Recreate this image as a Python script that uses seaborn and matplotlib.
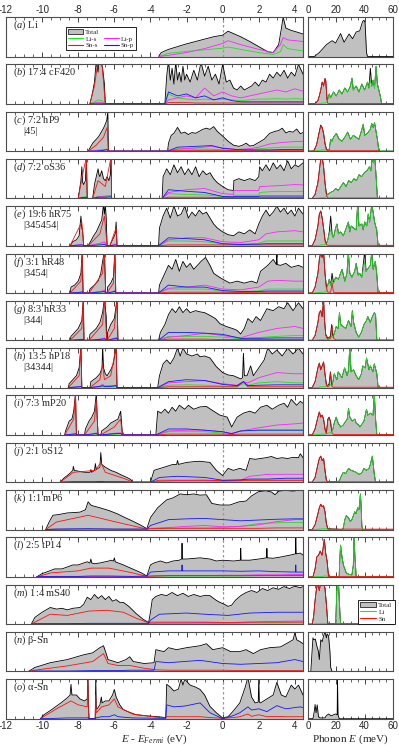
import matplotlib
matplotlib.use("Agg")
import matplotlib.pyplot as plt
import seaborn as sns
from matplotlib.patches import Patch
from matplotlib.lines import Line2D
from matplotlib.ticker import MultipleLocator

sns.set_style("ticks")
plt.rcParams["font.family"] = ["Liberation Serif", "DejaVu Serif"]
plt.rcParams["mathtext.fontset"] = "custom"
plt.rcParams["mathtext.rm"] = "Liberation Serif"
plt.rcParams["mathtext.it"] = "Liberation Serif:italic"
plt.rcParams["axes.unicode_minus"] = False

C_TOT = "#c0c0c0"
C_LIS = "#22e022"
C_LIP = "#ff22ff"
C_SNS = "#ff1010"
C_SNP = "#1515ff"

letters = list("abcdefghijklmno")
names = ["Li", "17:4 cF420", "7:2 hP9", "7:2 oS36", "19:6 hR75", "3:1 hR48", "8:3 hR33",
         "13:5 hP18", "7:3 mP20", "2:1 oS12", "1:1 mP6", "2:5 tP14", "1:4 mS40",
         "\u03b2-Sn", "\u03b1-Sn"]
sublabels = ["", "", "|45|", "", "|345454|", "|3454|", "|344|", "|34344|",
             "", "", "", "", "", "", ""]

# ---- electronic DOS (energy in eV, height as fraction of panel) ----
a_e = [-3.55,-3.4,-3.0,-2.5,-2.0,-1.5,-1.0,-0.5,0.0,0.3,0.6,1.0,1.5,2.0,2.5,2.8,3.1,3.25,3.35,3.5,3.8,4.1,4.45]
a_tot = [0,0.1,0.18,0.25,0.32,0.38,0.44,0.5,0.54,0.64,0.58,0.5,0.38,0.25,0.12,0.1,0.3,0.7,1.0,0.72,0.66,0.62,0.57]
a_ce = [-3.55,-3.0,-2.0,-1.0,0.0,0.3,1.0,2.0,2.8,3.2,3.35,3.6,4.45]
a_lis = [0,0.08,0.13,0.17,0.21,0.24,0.18,0.1,0.05,0.12,0.3,0.2,0.14]
a_lip = [0,0.03,0.1,0.2,0.33,0.4,0.3,0.18,0.1,0.3,0.48,0.42,0.38]

b_e = [-7.35,-7.2,-7.1,-7.0,-6.9,-6.85,-6.75,-6.65,-6.55,-6.5,
       -3.2,-3.1,-3.0,-2.9,-2.8,-2.7,-2.6,-2.5,-2.4,-2.3,-2.2,-2.1,-2.0,-1.8,-1.6,-1.4,-1.2,-1.0,-0.8,-0.6,
       -0.4,-0.2,0.0,0.2,0.4,0.6,0.8,1.0,1.2,1.4,1.6,1.8,2.0,2.2,2.4,2.6,2.8,3.0,3.2,3.4,3.6,3.8,4.0,4.2,4.45]
b_tot = [0,0.3,0.55,1.1,0.8,1.1,1.1,0.9,0.5,0,
         0,0.7,1.1,0.6,0.9,0.5,1.05,0.6,0.8,0.55,0.95,0.6,0.75,0.55,0.85,0.6,1.05,0.7,0.95,0.6,
         0.75,0.5,1.0,0.55,0.6,0.4,0.35,0.45,0.35,0.4,0.45,0.55,0.45,0.6,0.55,0.75,0.65,0.8,0.7,0.85,0.65,0.8,0.7,1.0,0.75]
b_ce = [-7.35,-7.1,-6.9,-6.7,-6.5,-3.2,-3.0,-2.5,-2.0,-1.5,-1.0,-0.5,0.0,0.5,1.0,1.5,2.0,2.5,3.0,3.5,4.0,4.45]
b_sns = [0,0.45,1.1,1.1,0,0,0.03,0.03,0.03,0.02,0.02,0.02,0.02,0.02,0.02,0.02,0.02,0.02,0.02,0.02,0.02,0.02]
b_snp = [0,0,0,0,0,0,0.3,0.2,0.25,0.15,0.2,0.1,0.15,0.08,0.05,0.05,0.05,0.05,0.05,0.05,0.05,0.05]
b_lis = [0,0.05,0.1,0.08,0,0,0.25,0.15,0.12,0.1,0.12,0.1,0.12,0.1,0.08,0.1,0.12,0.12,0.13,0.12,0.13,0.12]
b_lip = [0,0.02,0.04,0.03,0,0,0.1,0.15,0.2,0.15,0.4,0.2,0.3,0.2,0.15,0.2,0.25,0.3,0.35,0.3,0.38,0.32]

c_e = [-7.45,-7.3,-7.2,-7.1,-7.0,-6.9,-6.8,-6.7,-6.6,-6.5,-6.42,-6.36,-6.33,
       -3.05,-3.0,-2.85,-2.7,-2.5,-2.3,-2.1,-1.9,-1.7,-1.5,-1.3,-1.1,-0.9,-0.7,-0.5,-0.3,0.0,0.3,0.6,0.9,
       1.1,1.3,1.5,1.7,2.0,2.3,2.6,2.9,3.1,3.3,3.5,3.7,3.9,4.1,4.3,4.45]
c_tot = [0,0.12,0.2,0.25,0.3,0.35,0.42,0.5,0.58,0.68,0.78,1.0,0,
         0,0.2,0.4,0.45,0.6,0.45,0.48,0.42,0.47,0.45,0.5,0.55,0.58,0.55,0.62,0.5,0.38,0.25,0.15,0.12,
         0.15,0.2,0.13,0.14,0.22,0.3,0.45,0.5,0.52,0.58,0.46,0.5,0.48,0.56,0.44,0.47]
c_ce = [-7.45,-7.0,-6.6,-6.4,-6.33,-3.05,-2.5,-1.5,-0.6,0.0,0.8,1.5,2.0,2.6,3.3,4.0,4.45]
c_sns = [0,0.15,0.35,0.6,0,0,0.02,0.02,0.02,0.02,0.01,0.01,0.01,0.01,0.01,0.01,0.01]
c_snp = [0,0,0.02,0.04,0,0,0.1,0.12,0.14,0.07,0.04,0.03,0.03,0.03,0.04,0.04,0.04]
c_lis = [0,0.02,0.04,0.05,0,0,0.06,0.05,0.05,0.03,0.02,0.03,0.06,0.08,0.1,0.1,0.1]
c_lip = [0,0.01,0.02,0.04,0,0,0.05,0.08,0.12,0.08,0.04,0.06,0.1,0.18,0.22,0.24,0.25]

d_e = [-8.0,-7.9,-7.85,-7.8,-7.75,-7.7,-7.6,-7.55,-7.5,
       -7.2,-7.1,-7.0,-6.9,-6.85,-6.8,-6.7,-6.6,-6.5,-6.4,-6.3,-6.22,-6.18,-6.15,
       -3.35,-3.3,-3.1,-2.9,-2.7,-2.5,-2.3,-2.1,-1.9,-1.7,-1.5,-1.3,-1.1,-0.9,-0.7,-0.5,-0.3,0.0,0.3,0.6,
       0.62,0.9,1.2,1.5,1.8,2.0,2.05,2.2,2.4,2.6,2.8,3.0,3.2,3.4,3.6,3.8,4.0,4.2,4.45]
d_tot = [0,0.3,0.45,0.8,0.4,0.35,0.45,1.05,0,
         0,0.35,0.55,0.75,0.6,0.55,0.7,0.5,0.45,0.55,0.45,0.6,1.05,0,
         0,0.55,0.75,0.6,0.85,0.65,0.8,0.6,0.75,0.6,0.8,0.55,0.7,0.6,0.65,0.5,0.4,0.3,0.22,0.2,
         0.45,0.5,0.45,0.5,0.45,0.55,0.8,0.7,0.85,0.7,0.9,0.75,0.85,0.7,0.95,0.75,0.85,0.8,0.9]
d_ce = [-8.0,-7.8,-7.55,-7.5,-7.2,-6.9,-6.5,-6.18,-6.15,-3.35,-3.0,-2.0,-1.0,0.0,0.6,0.62,1.5,2.0,2.05,3.0,4.0,4.45]
d_sns = [0,0.5,1.05,0,0,0.45,0.3,1.05,0,0,0.03,0.03,0.03,0.02,0.02,0.02,0.02,0.02,0.02,0.02,0.02,0.02]
d_snp = [0,0.02,0.03,0,0,0.03,0.03,0.04,0,0,0.22,0.18,0.15,0.05,0.04,0.05,0.05,0.05,0.06,0.06,0.06,0.06]
d_lis = [0,0.03,0.04,0,0,0.05,0.04,0.05,0,0,0.12,0.1,0.09,0.05,0.04,0.08,0.08,0.08,0.15,0.18,0.17,0.18]
d_lip = [0,0.02,0.02,0,0,0.04,0.06,0.07,0,0,0.15,0.22,0.25,0.12,0.1,0.2,0.2,0.2,0.3,0.32,0.35,0.34]

e_e = [-8.45,-8.3,-8.1,-7.95,-7.85,-7.8,-7.75,-7.7,
       -7.45,-7.3,-7.15,-7.0,-6.9,-6.8,-6.7,-6.6,-6.55,-6.5,-6.45,-6.4,
       -6.25,-6.1,-6.0,-5.95,-5.9,-5.85,
       -3.55,-3.5,-3.3,-3.1,-2.9,-2.7,-2.5,-2.3,-2.1,-1.9,-1.7,-1.5,-1.3,-1.1,-0.9,-0.7,-0.5,-0.3,0.0,0.3,
       0.6,0.9,1.2,1.5,1.8,2.0,2.2,2.4,2.6,2.8,3.0,3.2,3.4,3.6,3.8,4.0,4.2,4.45]
e_tot = [0,0.1,0.15,0.25,0.75,0.45,0.35,0,
         0,0.12,0.25,0.35,0.45,0.55,0.65,1.05,0.8,1.05,0.7,0,
         0,0.15,0.25,0.3,0.6,0,
         0,0.45,0.75,0.95,0.7,1.0,0.75,0.8,1.0,0.7,0.85,0.75,0.9,0.8,0.85,0.7,0.55,0.45,0.35,0.28,
         0.25,0.35,0.3,0.4,0.3,0.55,0.75,0.9,0.75,0.85,1.0,0.85,0.95,0.8,0.9,0.75,0.95,0.8]
e_ce = [-8.45,-7.8,-7.7,-7.45,-6.8,-6.55,-6.4,-6.25,-5.9,-5.85,-3.55,-3.0,-2.0,-1.0,0.0,1.0,2.0,2.4,3.0,4.0,4.45]
e_sns = [0,0.6,0,0,0.3,0.75,0,0,0.45,0,0,0.02,0.02,0.02,0.02,0.02,0.02,0.02,0.02,0.02,0.02]
e_snp = [0,0.02,0,0,0.02,0.03,0,0,0.02,0,0,0.2,0.18,0.15,0.05,0.03,0.04,0.05,0.05,0.05,0.05]
e_lis = [0,0.02,0,0,0.04,0.05,0,0,0.03,0,0,0.12,0.12,0.1,0.05,0.04,0.06,0.12,0.12,0.12,0.12]
e_lip = [0,0.03,0,0,0.06,0.1,0,0,0.04,0,0,0.15,0.2,0.2,0.1,0.08,0.15,0.3,0.35,0.38,0.35]

f_e = [-8.45,-8.4,-8.2,-8.0,-7.85,-7.78,-7.73,
       -7.4,-7.35,-7.1,-6.9,-6.75,-6.65,-6.55,-6.48,
       -6.4,-6.37,-6.2,-6.05,-5.97,-5.92,
       -3.55,-3.5,-3.4,-3.2,-3.0,-2.8,-2.6,-2.4,-2.2,-2.0,-1.8,-1.6,-1.4,-1.2,-0.95,-0.7,-0.5,-0.25,0.0,0.4,
       0.8,1.2,1.6,1.9,2.1,2.5,2.8,2.98,3.0,3.02,3.2,3.5,3.8,4.2,4.45]
f_tot = [0,0.15,0.2,0.3,0.5,1.05,0,
         0,0.1,0.2,0.3,0.5,0.8,1.05,0,
         0,0.15,0.25,0.4,1.05,0,
         0,0.2,0.3,0.5,0.7,0.6,0.85,0.55,0.8,0.65,0.75,0.6,0.7,0.8,0.9,0.7,0.5,0.42,0.35,0.25,
         0.3,0.25,0.3,0.25,0.55,0.7,0.85,0.72,1.05,0.72,0.7,0.75,0.65,0.7,0.65]
f_ce = [-8.45,-7.85,-7.78,-7.73,-7.4,-6.65,-6.55,-6.48,-6.4,-6.05,-5.97,-5.92,-3.55,-3.0,-2.0,-1.0,0.0,1.0,2.0,2.5,3.0,4.0,4.45]
f_sns = [0,0.3,1.05,0,0,0.5,1.05,0,0,0.25,1.05,0,0,0.02,0.02,0.02,0.02,0.01,0.02,0.02,0.02,0.02,0.02]
f_snp = [0,0.02,0.03,0,0,0.03,0.04,0,0,0.03,0.05,0,0,0.2,0.15,0.15,0.06,0.04,0.04,0.05,0.05,0.05,0.05]
f_lis = [0,0.02,0.02,0,0,0.03,0.03,0,0,0.03,0.03,0,0,0.1,0.1,0.1,0.05,0.04,0.05,0.1,0.1,0.1,0.1]
f_lip = [0,0.02,0.03,0,0,0.05,0.08,0,0,0.04,0.06,0,0,0.12,0.15,0.2,0.1,0.08,0.15,0.3,0.32,0.3,0.3]

g_e = [-8.45,-8.4,-8.2,-8.0,-7.8,-7.72,-7.68,
       -7.4,-7.35,-7.0,-6.8,-6.65,-6.55,-6.45,-6.42,
       -6.4,-6.37,-6.2,-6.0,-5.85,-5.8,
       -3.55,-3.45,-3.2,-3.0,-2.8,-2.6,-2.4,-2.2,-2.0,-1.8,-1.5,-1.25,-1.0,-0.7,-0.4,-0.15,0.2,0.6,0.8,1.0,
       1.2,1.4,1.65,1.85,2.1,2.45,2.8,3.1,3.4,3.6,3.9,4.2,4.45]
g_tot = [0,0.1,0.2,0.3,0.5,1.05,0,
         0,0.15,0.3,0.45,0.7,1.05,0.6,0,
         0,0.2,0.4,0.55,1.05,0,
         0,0.2,0.4,0.65,0.8,0.7,0.85,0.7,0.8,0.7,0.75,0.72,0.7,0.63,0.55,0.42,0.35,0.29,0.25,0.16,
         0.3,0.55,0.45,0.6,0.5,0.8,0.75,0.85,0.8,0.95,0.75,0.95,0.8]
g_ce = [-8.45,-7.8,-7.72,-7.68,-7.4,-6.65,-6.55,-6.42,-6.4,-6.0,-5.85,-5.8,-3.55,-3.0,-2.0,-1.0,0.0,1.0,1.4,2.0,3.0,4.0,4.45]
g_sns = [0,0.3,1.05,0,0,0.4,1.05,0,0,0.3,1.05,0,0,0.03,0.03,0.03,0.02,0.02,0.02,0.02,0.02,0.02,0.02]
g_snp = [0,0.02,0.03,0,0,0.03,0.04,0,0,0.04,0.05,0,0,0.2,0.2,0.18,0.15,0.05,0.05,0.05,0.06,0.06,0.06]
g_lis = [0,0.02,0.02,0,0,0.02,0.03,0,0,0.02,0.03,0,0,0.1,0.1,0.1,0.08,0.04,0.06,0.07,0.1,0.12,0.12]
g_lip = [0,0.02,0.03,0,0,0.04,0.06,0,0,0.05,0.07,0,0,0.08,0.12,0.18,0.12,0.06,0.12,0.2,0.3,0.35,0.3]

h_e = [-8.55,-8.5,-8.3,-8.1,-7.95,-7.85,-7.8,
       -7.35,-7.3,-7.0,-6.8,-6.68,-6.65,-6.6,-6.5,-6.4,-6.2,-6.05,-5.9,-5.85,
       -3.6,-3.5,-3.3,-3.1,-2.9,-2.7,-2.5,-2.35,-2.2,-2.0,-1.7,-1.4,-1.25,-1.0,-0.7,-0.35,0.0,0.3,0.6,1.0,
       1.1,1.15,1.2,1.35,1.55,1.7,2.0,2.3,2.5,2.75,3.0,3.3,3.6,3.9,4.2,4.45]
h_tot = [0,0.1,0.2,0.3,0.5,1.05,0,
         0,0.15,0.25,0.35,0.5,1.05,0.5,0.35,0.3,0.45,0.6,1.05,0,
         0,0.3,0.6,0.7,0.6,0.75,1.0,0.8,1.0,0.85,0.8,0.85,0.78,0.8,0.75,0.53,0.38,0.32,0.3,0.22,
         0.25,0.87,0.3,0.3,0.55,0.3,0.5,0.7,1.0,0.85,0.95,0.8,1.0,0.85,1.0,0.85]
h_ce = [-8.55,-7.95,-7.85,-7.8,-7.35,-6.8,-6.65,-6.55,-6.2,-5.9,-5.85,-3.6,-3.0,-2.0,-1.0,0.0,0.8,1.15,1.4,2.0,3.0,4.0,4.45]
h_sns = [0,0.3,1.05,0,0,0.2,0.6,0.2,0.3,1.05,0,0,0.02,0.02,0.02,0.02,0.02,0.15,0.02,0.02,0.02,0.02,0.02]
h_snp = [0,0.02,0.03,0,0,0.03,0.05,0.03,0.03,0.05,0,0,0.15,0.2,0.18,0.08,0.05,0.15,0.05,0.06,0.07,0.07,0.07]
h_lis = [0,0.02,0.02,0,0,0.02,0.03,0.02,0.03,0.03,0,0,0.06,0.07,0.06,0.04,0.03,0.1,0.06,0.12,0.15,0.12,0.12]
h_lip = [0,0.02,0.03,0,0,0.04,0.08,0.04,0.05,0.06,0,0,0.12,0.15,0.18,0.1,0.06,0.15,0.12,0.25,0.38,0.35,0.35]

i_e = [-8.75,-8.7,-8.5,-8.35,-8.25,-8.15,-8.1,
       -7.65,-7.6,-7.4,-7.25,-7.1,-7.0,-6.95,-6.9,
       -6.75,-6.7,-6.4,-6.2,-6.0,-5.8,-5.65,-5.6,-5.55,
       -3.7,-3.6,-3.4,-3.2,-3.0,-2.8,-2.6,-2.4,-2.1,-1.9,-1.6,-1.25,-0.9,-0.5,-0.15,0.25,0.5,0.8,1.15,1.5,
       1.8,2.1,2.45,2.75,3.1,3.4,3.6,3.8,4.1,4.3,4.45]
i_tot = [0,0.1,0.35,0.4,0.6,1.05,0,
         0,0.15,0.35,0.45,0.6,1.05,0.45,0,
         0,0.1,0.2,0.3,0.35,0.4,0.6,0.3,0,
         0,0.6,0.55,0.65,0.55,0.7,0.6,0.75,0.65,0.75,0.65,0.71,0.72,0.6,0.5,0.45,0.2,0.45,0.55,0.6,
         0.55,0.7,0.75,0.65,0.75,0.8,0.7,0.9,0.75,0.85,0.8]
i_ce = [-8.75,-8.25,-8.15,-8.1,-7.65,-7.1,-7.0,-6.9,-6.75,-6.0,-5.65,-5.55,-3.7,-3.0,-2.0,-1.0,0.0,0.5,1.0,2.0,3.0,4.0,4.45]
i_sns = [0,0.4,1.05,0,0,0.35,0.9,0,0,0.2,0.4,0,0,0.02,0.02,0.02,0.02,0.01,0.02,0.02,0.02,0.02,0.02]
i_snp = [0,0.02,0.03,0,0,0.03,0.04,0,0,0.03,0.04,0,0,0.15,0.15,0.12,0.08,0.03,0.1,0.12,0.12,0.12,0.12]
i_lis = [0,0.02,0.02,0,0,0.02,0.03,0,0,0.02,0.03,0,0,0.08,0.08,0.08,0.05,0.03,0.1,0.12,0.12,0.12,0.12]
i_lip = [0,0.02,0.03,0,0,0.03,0.05,0,0,0.04,0.05,0,0,0.1,0.12,0.12,0.08,0.04,0.1,0.18,0.25,0.28,0.3]

j_e = [-9.0,-8.8,-8.6,-8.4,-8.3,-8.27,-8.22,-8.0,-7.8,-7.6,-7.35,-7.3,-7.25,-7.1,-7.05,-7.0,-6.8,-6.75,-6.7,-6.5,
       -6.2,-5.9,-5.6,-5.3,-5.1,-4.95,
       -4.0,-3.8,-3.45,-3.1,-2.75,-2.55,-2.5,-2.45,-2.0,-1.6,-1.25,-0.7,-0.35,0.0,0.3,0.6,0.95,1.3,1.5,1.8,
       2.1,2.4,2.7,3.0,3.3,3.6,3.9,4.2,4.3,4.45]
j_tot = [0,0.1,0.17,0.25,0.3,0.4,0.3,0.28,0.26,0.25,0.25,0.32,0.25,0.3,0.47,0.32,0.38,0.75,0.45,0.38,
         0.3,0.25,0.18,0.12,0.07,0,
         0,0.3,0.35,0.4,0.45,0.45,0.55,0.45,0.5,0.52,0.53,0.5,0.3,0.17,0.35,0.3,0.35,0.3,0.6,0.58,
         0.6,0.62,0.65,0.6,0.62,0.6,0.63,0.62,0.72,0.62]
j_ce = [-9.0,-8.27,-7.05,-6.75,-6.5,-5.5,-4.95,-4.0,-3.5,-2.5,-1.0,0.0,1.0,1.5,2.5,3.5,4.45]
j_sns = [0,0.25,0.3,0.5,0.25,0.1,0,0,0.05,0.05,0.05,0.04,0.04,0.04,0.04,0.04,0.04]
j_snp = [0,0.01,0.01,0.02,0.01,0.01,0,0,0.12,0.15,0.12,0.05,0.06,0.08,0.08,0.1,0.1]
j_lis = [0,0.01,0.01,0.02,0.01,0.01,0,0,0.02,0.03,0.03,0.02,0.03,0.06,0.06,0.06,0.06]
j_lip = [0,0.01,0.01,0.02,0.01,0.01,0,0,0.02,0.04,0.05,0.03,0.05,0.15,0.2,0.2,0.2]

k_e = [-9.8,-9.6,-9.4,-9.07,-8.6,-8.2,-7.9,-7.6,-7.45,-7.3,-7.2,-6.8,-6.3,-5.85,-5.4,-4.93,-4.5,-4.2,
       -4.0,-3.6,-3.1,-2.75,-2.35,-2.0,-1.6,-1.25,-0.9,-0.6,-0.15,0.4,0.9,1.3,1.6,2.0,2.4,2.7,2.9,3.1,3.5,3.9,4.2,4.45]
k_tot = [0,0.2,0.36,0.38,0.42,0.43,0.44,0.5,0.7,0.62,0.6,0.55,0.48,0.4,0.3,0.2,0.1,0.02,
         0.3,0.55,0.75,0.8,0.9,0.88,0.9,0.87,0.88,0.66,0.62,0.62,0.7,0.72,0.85,0.96,0.98,0.95,0.88,0.97,0.99,0.97,1.0,0.98]
k_ce = [-9.8,-9.2,-7.45,-6.0,-4.2,-4.0,-3.0,-2.0,-1.0,0.0,1.0,2.0,3.0,4.0,4.45]
k_sns = [0,0.19,0.36,0.2,0.01,0.02,0.03,0.03,0.03,0.03,0.03,0.03,0.04,0.04,0.04]
k_snp = [0,0.01,0.02,0.01,0.01,0.1,0.25,0.27,0.28,0.25,0.22,0.24,0.26,0.27,0.27]
k_lis = [0,0.01,0.01,0.01,0.01,0.02,0.03,0.04,0.04,0.05,0.08,0.15,0.17,0.18,0.18]
k_lip = [0,0.01,0.01,0.01,0.01,0.03,0.05,0.08,0.1,0.07,0.08,0.12,0.2,0.25,0.25]

l_e = [-10.3,-10.0,-9.7,-9.3,-8.9,-8.6,-8.3,-8.0,-7.7,-7.5,-7.35,-7.3,-7.25,-7.1,-6.8,-6.5,-6.3,-6.2,-6.05,-6.0,
       -5.95,-5.5,-5.0,-4.5,-4.2,
       -4.0,-3.8,-3.45,-3.1,-2.75,-2.4,-2.27,-2.25,-2.23,-2.0,-1.25,-0.7,-0.35,0.0,0.6,0.98,1.0,1.02,1.5,2.0,
       2.43,2.45,2.47,2.8,3.2,3.75,4.03,4.05,4.07,4.3,4.45]
l_tot = [0,0.08,0.13,0.2,0.2,0.25,0.3,0.3,0.35,0.38,0.35,0.45,0.35,0.33,0.35,0.38,0.4,0.42,0.4,0.48,
         0.38,0.3,0.2,0.1,0.02,
         0.3,0.35,0.4,0.35,0.4,0.42,0.45,0.85,0.45,0.45,0.48,0.45,0.4,0.42,0.4,0.42,0.72,0.42,0.42,0.45,
         0.48,0.72,0.48,0.47,0.5,0.55,0.58,1.05,0.58,0.6,0.55]
l_ce = [-10.3,-9.5,-8.0,-7.3,-6.3,-5.0,-4.2,-4.0,-3.0,-2.27,-2.25,-2.23,-1.0,0.0,1.0,2.0,3.0,4.03,4.05,4.07,4.45]
l_sns = [0,0.1,0.15,0.22,0.22,0.1,0.01,0.02,0.03,0.03,0.03,0.03,0.03,0.03,0.03,0.03,0.03,0.03,0.03,0.03,0.03]
l_snp = [0,0.01,0.01,0.02,0.02,0.01,0.02,0.12,0.15,0.15,0.3,0.15,0.15,0.15,0.14,0.15,0.13,0.12,0.3,0.12,0.12]
l_lis = [0,0.01,0.01,0.01,0.01,0.01,0.01,0.01,0.02,0.02,0.02,0.02,0.02,0.02,0.02,0.03,0.03,0.03,0.03,0.03,0.03]
l_lip = [0,0.01,0.01,0.01,0.01,0.01,0.01,0.02,0.03,0.03,0.03,0.03,0.03,0.04,0.04,0.05,0.05,0.06,0.06,0.06,0.06]

m_e = [-10.6,-10.4,-10.0,-9.55,-9.2,-8.9,-8.6,-8.3,-7.9,-7.7,-7.5,-7.3,-7.1,-6.9,-6.7,-6.5,-6.3,-6.1,-5.9,-5.7,
       -5.5,-5.2,-4.8,-4.4,-4.1,
       -4.0,-3.9,-3.7,-3.4,-3.1,-2.8,-2.5,-2.2,-1.9,-1.6,-1.25,-0.95,-0.7,-0.35,-0.15,0.1,0.3,0.5,0.7,1.0,
       1.3,1.6,1.9,2.2,2.5,2.8,3.1,3.4,3.7,4.0,4.3,4.45]
m_tot = [0,0.17,0.3,0.42,0.38,0.4,0.36,0.4,0.42,0.5,0.68,0.62,0.75,0.65,0.72,0.62,0.7,0.58,0.62,0.55,
         0.55,0.45,0.27,0.12,0.04,
         0.3,0.62,0.7,0.75,0.72,0.8,0.72,0.78,0.7,0.75,0.7,0.73,0.72,0.6,0.55,0.5,0.45,0.48,0.6,0.72,
         0.8,0.85,0.8,0.9,0.85,0.92,0.88,0.95,0.9,0.96,0.92,0.95]
m_ce = [-10.6,-10.4,-9.55,-8.6,-7.4,-6.4,-5.5,-4.8,-4.1,-4.0,-3.5,-2.0,-1.0,0.3,1.5,3.0,4.45]
m_sns = [0,0.05,0.25,0.22,0.33,0.35,0.3,0.15,0.03,0.05,0.05,0.05,0.05,0.04,0.05,0.05,0.05]
m_snp = [0,0.01,0.01,0.01,0.02,0.02,0.02,0.02,0.02,0.1,0.25,0.28,0.25,0.22,0.28,0.3,0.3]
m_lis = [0,0.01,0.01,0.01,0.01,0.01,0.01,0.01,0.01,0.01,0.02,0.02,0.02,0.02,0.03,0.03,0.03]
m_lip = [0,0.01,0.01,0.01,0.01,0.01,0.01,0.01,0.01,0.02,0.03,0.03,0.04,0.03,0.05,0.07,0.08]

n_e = [-10.75,-10.4,-9.55,-8.6,-7.7,-7.2,-6.8,-6.6,-6.45,-6.35,-6.0,-5.8,-5.35,-5.15,-4.95,-4.35,-3.8,-3.7,
       -3.25,-3.0,-2.55,-2.0,-1.25,-0.9,-0.55,0.0,0.45,0.95,1.3,1.7,2.1,2.6,3.2,3.6,3.9,4.0,4.1,4.3,4.45]
n_tot = [0,0.1,0.22,0.3,0.42,0.47,0.6,0.65,0.45,0.3,0.25,0.22,0.3,0.37,0.25,0.2,0.22,0.55,
         0.5,0.6,0.55,0.6,0.65,0.7,0.55,0.6,0.5,0.5,0.55,0.45,0.55,0.6,0.62,0.72,0.8,0.98,0.8,0.75,0.7]
n_ce = [-10.75,-10.4,-8.6,-7.2,-6.6,-6.35,-5.8,-5.15,-4.35,-3.8,-3.7,-3.0,-1.25,0.0,1.0,2.0,3.0,4.0,4.45]
n_sns = [0,0.03,0.14,0.25,0.45,0.2,0.15,0.15,0.08,0.05,0.04,0.03,0.03,0.03,0.02,0.02,0.02,0.02,0.02]
n_snp = [0,0.01,0.01,0.02,0.02,0.02,0.02,0.03,0.03,0.03,0.25,0.22,0.28,0.2,0.18,0.2,0.22,0.3,0.25]

o_e = [-10.1,-9.9,-9.5,-9.2,-8.9,-8.6,-8.45,-8.4,-8.35,-8.1,-7.9,-7.65,-7.5,-7.46,-7.43,-7.4,
       -7.06,-7.03,-7.0,-6.95,-6.8,-6.72,-6.68,-6.5,-6.3,-6.1,-6.0,-5.9,-5.7,-5.5,-5.2,-4.8,-4.2,-3.6,-3.15,
       -3.1,-2.9,-2.7,-2.45,-2.3,-2.2,-2.1,-1.8,-1.5,-1.25,-1.0,-0.7,-0.35,0.0,0.3,0.6,0.95,1.25,1.4,1.6,1.8,
       1.97,2.0,2.03,2.1,2.45,2.8,3.0,3.25,3.5,3.8,4.0,4.2,4.45]
o_tot = [0,0.1,0.22,0.32,0.42,0.53,0.6,0.87,0.6,0.6,0.5,0.45,0.5,1.05,0.3,0,
         0,1.05,0.25,0.25,0.35,0.55,0.4,0.45,0.45,0.6,0.74,0.55,0.35,0.23,0.17,0.1,0.07,0.05,0.03,
         0.87,0.8,0.7,0.75,1.0,0.85,1.0,0.85,0.8,0.74,0.6,0.31,0.15,0.02,0.05,0.2,0.4,0.8,1.05,0.55,0.4,
         0.42,1.05,0.42,0.4,0.5,0.6,0.92,0.6,0.55,0.85,0.75,0.85,0.6]
o_ce = [-10.1,-9.2,-8.6,-8.4,-8.0,-7.5,-7.46,-7.43,-7.4,
        -7.06,-7.03,-7.0,-6.7,-6.3,-6.0,-5.8,-5.0,-3.5,-3.15,
        -3.1,-2.7,-2.1,-1.25,-0.7,0.0,0.6,0.95,1.4,1.6,2.0,2.45,3.0,3.5,4.3,4.45]
o_sns = [0,0.25,0.4,0.45,0.35,0.3,1.05,0.2,0,
         0,0.6,0.15,0.3,0.35,0.5,0.3,0.12,0.03,0.02,
         0.05,0.05,0.05,0.05,0.03,0.01,0.03,0.05,0.12,0.06,0.1,0.05,0.06,0.05,0.05,0.05]
o_snp = [0,0.01,0.02,0.02,0.02,0.02,0.03,0.02,0,
         0,0.03,0.02,0.05,0.05,0.1,0.05,0.02,0.01,0.01,
         0.35,0.3,0.32,0.4,0.15,0.0,0.08,0.15,0.3,0.22,0.25,0.18,0.33,0.25,0.3,0.28]

# ---- phonon DOS (energy in meV) ----
a_pe = [0,4.5,8,13,17,19.5,23,25.5,29,31.5,34,36.5,38.5,39.5,40.3,41.3,42,60]
a_ptot = [0,0,0.1,0.3,0.4,0.34,0.58,0.36,0.57,0.45,0.62,0.65,0.88,0.92,0.85,0.1,0,0]

b_pe = [0,5,7,8,9,10,11,12,12.5,13.5,14,15,16,18,20,22,24,26,28,30,31,32,34,36,38,40,42,43,44,45,46,47,48,49,50,51,52,60]
b_ptot = [0,0,0.08,0.2,0.35,0.55,0.45,0.64,0.6,0.1,0.12,0.25,0.15,0.3,0.2,0.35,0.25,0.4,0.3,0.45,
          0.65,0.35,0.45,0.3,0.5,0.35,0.55,0.4,0.9,0.45,0.6,0.4,0.95,0.5,0.35,0.2,0,0]
b_pli = [0,0,0,0.01,0.01,0.02,0.02,0.02,0.03,0.05,0.12,0.25,0.15,0.3,0.2,0.35,0.25,0.4,0.3,0.45,
         0.65,0.35,0.45,0.3,0.5,0.35,0.55,0.4,0.6,0.45,0.6,0.4,0.95,0.5,0.35,0.2,0,0]
b_psne = [0,5,7,8,9,10,11,12,12.5,13.5,14,60]
b_psn = [0,0,0.08,0.2,0.35,0.55,0.45,0.64,0.6,0.08,0.01,0.01]

c_pe = [0,4,6,8,9,10,11,12,13,14,15,16,17,18,20,22,24,26,28,30,32,34,36,38,39,40,42,44,45,46,47,48,49,50,60]
c_ptot = [0,0,0.15,0.5,0.66,0.6,0.45,0.2,0.05,0.03,0.05,0.3,0.25,0.35,0.45,0.3,0.25,0.35,0.48,0.3,
          0.4,0.35,0.3,0.55,0.68,0.4,0.45,0.55,0.7,0.6,0.72,0.5,0.3,0,0]
c_pli = [0,0,0.01,0.02,0.02,0.03,0.03,0.03,0.03,0.03,0.05,0.3,0.25,0.35,0.45,0.3,0.25,0.35,0.48,0.3,
         0.4,0.35,0.3,0.55,0.68,0.4,0.45,0.55,0.7,0.6,0.72,0.5,0.3,0,0]
c_psne = [0,4,6,8,9,10,11,12,13,14,50]
c_psn = [0,0,0.15,0.48,0.64,0.58,0.43,0.18,0.03,0.01,0.01]

d_pe = [0,3,5,7,8,9,10,11,12,13,14,15.8,17.7,19.5,21.4,23.2,25,26.9,28.7,30.6,32.4,34.2,36.1,37.9,39.8,
        41.6,43.4,44.4,45.3,46.2,47.1,48,49,60]
d_ptot = [0,0,0.1,0.4,0.7,1.0,1.05,0.8,0.4,0.12,0.1,0.15,0.18,0.25,0.2,0.3,0.4,0.3,0.45,0.4,
          0.5,0.45,0.6,0.55,0.65,0.7,0.8,0.7,1.05,0.9,1.05,0.6,0,0]
d_pli = [0,0,0,0.01,0.01,0.02,0.02,0.02,0.03,0.06,0.1,0.15,0.18,0.25,0.2,0.3,0.4,0.3,0.45,0.4,
         0.5,0.45,0.6,0.55,0.65,0.7,0.8,0.7,1.05,0.9,1.05,0.6,0,0]
d_psne = [0,3,5,7,8,9,10,11,12,13,14,60]
d_psn = [0,0,0.1,0.4,0.7,1.0,1.05,0.8,0.38,0.08,0.01,0.01]

e_pe = [0,3,5,7,8,9,10,11,12,13,14,15,16,17,18,19.5,20.5,21.5,23,25,27,28.5,29.5,30.5,32,34,35,36,38,39,
        40,41.5,42.5,43.5,45,46,47,48.5,49.5,60]
e_ptot = [0,0,0.15,0.5,0.8,0.88,0.7,0.45,0.15,0.05,0.15,0.35,0.75,0.3,0.2,0.45,0.55,0.3,0.35,0.25,
          0.45,0.6,0.35,0.5,0.45,0.4,1.05,0.5,0.55,0.4,0.6,0.5,0.8,0.6,1.05,0.85,0.6,0.4,0,0]
e_pli = [0,0,0,0.01,0.01,0.02,0.02,0.02,0.03,0.04,0.15,0.3,0.4,0.3,0.2,0.45,0.55,0.3,0.35,0.25,
         0.45,0.6,0.35,0.5,0.45,0.4,1.05,0.5,0.55,0.4,0.6,0.5,0.8,0.6,1.05,0.85,0.6,0.4,0,0]
e_psne = [0,3,5,7,8,9,10,11,12,13,14,60]
e_psn = [0,0,0.15,0.5,0.8,0.88,0.7,0.43,0.12,0.03,0.01,0.01]

f_pe = [0,3,5,7,8,9,10,11,12,13,14,15,16,17,18,19.5,21.5,23,24,26,27.5,28.5,29.5,31,33,34,35.5,36.5,38,40,
        41,42,44,45,46,47.5,48.5,49.5,60]
f_ptot = [0,0,0.15,0.5,0.85,1.05,0.9,1.05,0.5,0.15,0.2,0.35,0.2,0.5,0.25,0.4,0.35,0.5,0.6,0.3,
          0.5,1.05,0.5,0.4,0.55,0.75,0.45,0.5,0.4,1.05,0.55,0.6,0.7,1.05,0.6,0.8,0.5,0,0]
f_pli = [0,0,0,0.01,0.01,0.02,0.02,0.02,0.03,0.05,0.2,0.35,0.2,0.3,0.25,0.4,0.35,0.5,0.6,0.3,
         0.5,1.05,0.5,0.4,0.55,0.75,0.45,0.5,0.4,0.8,0.55,0.6,0.7,1.05,0.6,0.8,0.5,0,0]
f_psne = [0,3,5,7,8,9,10,11,12,13,14,16,17,18,20,60]
f_psn = [0,0,0.15,0.5,0.85,1.0,0.9,1.05,0.48,0.12,0.02,0.02,0.25,0.02,0.01,0.01]

g_pe = [0,3,5,7,8,9,10,11,11.5,12.5,14,15.8,16.7,17.6,18.5,19.9,21.3,22.2,23.1,24.9,26.7,28.6,30.4,31.3,32.2,
        34,35.8,37.7,39.5,41.3,42.2,44,44.9,46.8,47.7,48.6,60]
g_ptot = [0,0,0.12,0.45,0.7,0.75,0.6,1.05,0.6,0.15,0.05,0.1,0.4,0.1,0.15,0.35,0.3,0.7,0.4,0.35,
          0.3,0.5,0.35,0.75,0.45,0.2,0.08,0.2,0.4,0.5,0.6,0.45,0.55,0.7,0.65,0,0]
g_pli = [0,0,0,0.01,0.01,0.02,0.02,0.02,0.02,0.03,0.04,0.06,0.1,0.08,0.15,0.35,0.3,0.7,0.4,0.35,
         0.3,0.5,0.35,0.75,0.45,0.2,0.08,0.2,0.4,0.5,0.6,0.45,0.55,0.7,0.65,0,0]
g_psne = [0,3,5,7,8,9,10,11,11.5,12.5,14,16,17,18,20,60]
g_psn = [0,0,0.12,0.45,0.7,0.75,0.6,1.05,0.58,0.12,0.02,0.05,0.38,0.05,0.01,0.01]

h_pe = [0,3,5,7,8,9,10,11,12,13,14,14.9,15.8,16.7,17.6,18.5,20.4,21.3,23.1,24,25.8,27.7,28.6,29.5,30.4,
        32.2,34,35.8,37.7,38.6,40.4,41.3,43.1,44,45.9,46.8,48.6,49.5,60]
h_ptot = [0,0,0.15,0.5,0.62,0.45,0.55,0.65,0.35,0.08,0.05,0.1,0.4,0.05,0.15,0.35,0.2,0.4,0.3,0.25,
          0.5,0.3,0.45,1.05,0.4,0.45,0.3,0.2,0.35,0.55,0.5,0.75,0.45,0.55,0.4,0.6,0.35,0,0]
h_pli = [0,0,0,0.01,0.01,0.02,0.02,0.02,0.02,0.04,0.04,0.06,0.08,0.05,0.15,0.35,0.2,0.4,0.3,0.25,
         0.5,0.3,0.45,1.05,0.4,0.45,0.3,0.2,0.35,0.55,0.5,0.75,0.45,0.55,0.4,0.6,0.35,0,0]
h_psne = [0,3,5,7,8,9,10,11,12,13,14,15,16,17,18,60]
h_psn = [0,0,0.15,0.5,0.62,0.45,0.55,0.65,0.33,0.05,0.02,0.05,0.38,0.02,0.01,0.01]

i_pe = [0,3,5,7,8,9,10,11,12,13,14,14.9,15.8,16.7,17.6,18.5,19.9,21.3,23.1,24.9,25.8,27.7,28.6,29.5,31.3,
        33.1,34,35.8,36.7,38.6,39.5,41.3,42.2,44,45.9,46.8,47.7,48.6,60]
i_ptot = [0,0,0.15,0.45,0.58,0.45,0.5,0.4,0.15,0.05,0.4,0.45,0.35,0.1,0.15,0.3,0.45,0.3,0.2,0.25,
          0.3,0.4,0.67,0.45,0.35,0.4,0.3,0.25,0.2,0.3,0.35,0.65,0.5,0.55,0.5,1.05,0.4,0,0]
i_pli = [0,0,0,0.01,0.01,0.02,0.02,0.02,0.02,0.03,0.04,0.05,0.05,0.08,0.15,0.3,0.45,0.3,0.2,0.25,
         0.3,0.4,0.67,0.45,0.35,0.4,0.3,0.25,0.2,0.3,0.35,0.65,0.5,0.55,0.5,1.05,0.4,0,0]
i_psne = [0,3,5,7,8,9,10,11,12,13,14,15,16,17,18,60]
i_psn = [0,0,0.15,0.45,0.58,0.45,0.5,0.4,0.13,0.03,0.38,0.42,0.32,0.04,0.01,0.01]

j_pe = [0,3,5,7,8,9,10,11,12,13,14,19.5,22.2,23.1,24.9,26.7,28.6,30.4,32.2,34,35.8,37.7,39.5,41.3,43.1,
        44,45.4,46.8,47.7,60]
j_ptot = [0,0,0.12,0.45,0.6,0.66,0.55,0.6,0.3,0.05,0.01,0.01,0.03,0.12,0.25,0.22,0.35,0.3,0.28,0.25,
          0.2,0.22,0.35,0.3,0.35,0.45,0.66,0.2,0,0]
j_pli = [0,0,0,0.01,0.01,0.01,0.02,0.02,0.02,0.02,0.01,0.01,0.03,0.12,0.25,0.22,0.35,0.3,0.28,0.25,
         0.2,0.22,0.35,0.3,0.35,0.45,0.66,0.2,0,0]
j_psne = [0,3,5,7,8,9,10,11,12,13,14,60]
j_psn = [0,0,0.12,0.45,0.6,0.66,0.55,0.6,0.28,0.03,0.01,0.01]

k_pe = [0,3,5,7,8,9,10,11,12,13,14,24,25,26,27,28.5,30,31,33,34,35,36,37,37.5,38,38.5,60]
k_ptot = [0,0,0.12,0.4,0.55,0.64,0.58,0.6,0.45,0.15,0.02,0,0.05,0.25,0.35,0.3,0.2,0.25,0.45,0.4,
          0.55,0.5,0.9,0.6,0.1,0,0]
k_pli = [0,0,0,0.01,0.01,0.01,0.02,0.02,0.02,0.02,0.01,0,0.05,0.25,0.35,0.3,0.2,0.25,0.45,0.4,
         0.55,0.5,0.9,0.6,0.1,0,0]
k_psne = [0,3,5,7,8,9,10,11,12,13,14,60]
k_psn = [0,0,0.12,0.4,0.55,0.64,0.58,0.6,0.43,0.13,0.01,0.01]

l_pe = [0,3.5,5,6.2,7.5,8.6,10,11.5,12.5,13.5,14.5,22,22.5,23,24,25,27,29,31,32,32.4,33,33.5,34,60]
l_ptot = [0,0,0.2,0.5,0.55,0.65,0.55,0.95,0.6,0.4,0,0,0.5,0.8,0.5,0.3,0.1,0.06,0.05,0.3,1.05,0.6,0.3,0,0]
l_pli = [0,0,0,0.01,0.01,0.01,0.01,0.02,0.02,0.02,0,0,0.5,0.8,0.5,0.3,0.1,0.06,0.05,0.3,1.05,0.6,0.3,0,0]
l_psne = [0,3.5,5,6.2,7.5,8.6,10,11.5,12.5,13.5,14.5,60]
l_psn = [0,0,0.2,0.5,0.55,0.65,0.55,0.95,0.58,0.38,0.01,0.01]

m_pe = [0,3,4,5,6,7,8,9,10,11,12,13,14,19.5,20,20.5,21,21.5,22,22.5,23,60]
m_ptot = [0,0,0.2,0.6,0.9,1.05,0.85,1.05,1.0,1.05,0.9,0.5,0,0,0.5,1.05,0.9,1.05,0.7,0.3,0,0]
m_pli = [0,0,0,0.01,0.01,0.01,0.01,0.02,0.02,0.02,0.02,0.02,0,0,0.5,1.05,0.9,1.05,0.7,0.3,0,0]
m_psne = [0,3,4,5,6,7,8,9,10,11,12,13,14,60]
m_psn = [0,0,0.2,0.6,0.9,1.05,0.85,1.05,1.0,1.05,0.9,0.48,0.01,0.01]

n_pe = [0,2,2.5,3.5,4,5.2,6.2,7.4,8,9,10,11,12,13,13.5,14.5,15.5,16,17,60]
n_ptot = [0,0,0.3,0.85,0.8,0.82,0.65,0.5,0.3,0.8,0.75,0.9,1.0,0.85,0.95,0.9,0.5,0.1,0,0]

o_pe = [0,3.5,4.5,5,5.7,6.5,7.4,8.5,12,13,14.6,16,17,18,19.5,20.6,20.8,21.2,22,60]
o_ptot = [0,0,0.2,0.36,0.15,0.35,0.05,0.02,0.02,0.08,0.12,0.08,0.08,0.1,0.12,0.1,1.05,0.1,0,0]

elec = [
    (a_e, a_tot, a_ce, a_lis, a_lip, None, None),
    (b_e, b_tot, b_ce, b_lis, b_lip, b_sns, b_snp),
    (c_e, c_tot, c_ce, c_lis, c_lip, c_sns, c_snp),
    (d_e, d_tot, d_ce, d_lis, d_lip, d_sns, d_snp),
    (e_e, e_tot, e_ce, e_lis, e_lip, e_sns, e_snp),
    (f_e, f_tot, f_ce, f_lis, f_lip, f_sns, f_snp),
    (g_e, g_tot, g_ce, g_lis, g_lip, g_sns, g_snp),
    (h_e, h_tot, h_ce, h_lis, h_lip, h_sns, h_snp),
    (i_e, i_tot, i_ce, i_lis, i_lip, i_sns, i_snp),
    (j_e, j_tot, j_ce, j_lis, j_lip, j_sns, j_snp),
    (k_e, k_tot, k_ce, k_lis, k_lip, k_sns, k_snp),
    (l_e, l_tot, l_ce, l_lis, l_lip, l_sns, l_snp),
    (m_e, m_tot, m_ce, m_lis, m_lip, m_sns, m_snp),
    (n_e, n_tot, n_ce, None, None, n_sns, n_snp),
    (o_e, o_tot, o_ce, None, None, o_sns, o_snp),
]
phon = [
    (a_pe, a_ptot, None, None, None),
    (b_pe, b_ptot, b_pli, b_psne, b_psn),
    (c_pe, c_ptot, c_pli, c_psne, c_psn),
    (d_pe, d_ptot, d_pli, d_psne, d_psn),
    (e_pe, e_ptot, e_pli, e_psne, e_psn),
    (f_pe, f_ptot, f_pli, f_psne, f_psn),
    (g_pe, g_ptot, g_pli, g_psne, g_psn),
    (h_pe, h_ptot, h_pli, h_psne, h_psn),
    (i_pe, i_ptot, i_pli, i_psne, i_psn),
    (j_pe, j_ptot, j_pli, j_psne, j_psn),
    (k_pe, k_ptot, k_pli, k_psne, k_psn),
    (l_pe, l_ptot, l_pli, l_psne, l_psn),
    (m_pe, m_ptot, m_pli, m_psne, m_psn),
    (n_pe, n_ptot, None, None, None),
    (o_pe, o_ptot, None, None, None),
]


def line(ax, x, y, color, lw=0.6):
    sns.lineplot(x=x, y=y, ax=ax, color=color, lw=lw, estimator=None,
                 sort=False, errorbar=None, legend=False)


def style(ax, row, major, minor):
    ax.xaxis.set_major_locator(MultipleLocator(major))
    ax.xaxis.set_minor_locator(MultipleLocator(minor))
    ax.set_yticks([])
    ax.set_xlabel("")
    ax.set_ylabel("")
    ax.tick_params(axis="x", which="both", direction="in", top=True, bottom=True,
                   labelbottom=(row == 14), labeltop=(row == 0), labelsize=7, pad=1.5)
    ax.tick_params(axis="x", which="major", length=3.5, width=0.6)
    ax.tick_params(axis="x", which="minor", length=2, width=0.5)
    for s in ax.spines.values():
        s.set_linewidth(0.8)
        s.set_color("0.3")
    plt.setp(ax.get_xticklabels(), fontfamily="Liberation Sans")


W, H = 399.0, 749.0
fig = plt.figure(figsize=(3.99, 7.49), dpi=100)

for r in range(15):
    top = 17 + r * 47.3
    y0 = 1 - (top + 39.5) / H
    axl = fig.add_axes([6 / W, y0, 297 / W, 39.5 / H])
    axr = fig.add_axes([308 / W, y0, 85 / W, 39.5 / H])

    e, tot, ce, lis, lip, sn_s, sn_p = elec[r]
    axl.fill_between(e, 0, tot, color=C_TOT, lw=0, zorder=1)
    axl.axvline(0, color="0.6", lw=0.9, ls=(0, (2, 2)), zorder=1.5)
    line(axl, e, tot, "black")
    for arr, col in [(lis, C_LIS), (lip, C_LIP), (sn_s, C_SNS), (sn_p, C_SNP)]:
        if arr is not None:
            line(axl, ce, arr, col)
    axl.set_xlim(-12, 4.45)
    axl.set_ylim(0, 1)
    style(axl, r, 2, 0.5)

    axl.text(0.024, 0.79, f"(${letters[r]}$) {names[r]}", transform=axl.transAxes,
             fontsize=7.5, va="center", ha="left")
    if sublabels[r]:
        axl.text(0.057, 0.5, sublabels[r], transform=axl.transAxes,
                 fontsize=7.5, va="center", ha="left")

    pe, ptot, pli, psne, psn = phon[r]
    axr.fill_between(pe, 0, ptot, color=C_TOT, lw=0, zorder=1)
    line(axr, pe, ptot, "black")
    if pli is not None:
        line(axr, pe, pli, C_LIS)
    if psn is not None:
        line(axr, psne, psn, C_SNS)
    axr.set_xlim(0, 60)
    axr.set_ylim(0, 1)
    style(axr, r, 20, 5)

    if r == 0:
        hs = [Patch(facecolor=C_TOT, edgecolor="black", lw=0.5, label="Total"),
              Line2D([], [], color=C_LIS, lw=0.8, label="Li-s"),
              Line2D([], [], color=C_SNS, lw=0.8, label="Sn-s"),
              Line2D([], [], color="none", label=" "),
              Line2D([], [], color=C_LIP, lw=0.8, label="Li-p"),
              Line2D([], [], color=C_SNP, lw=0.8, label="Sn-p")]
        lg = axl.legend(handles=hs, ncol=2, loc="upper left", bbox_to_anchor=(0.19, 0.83),
                        fontsize=5, frameon=True, fancybox=False, edgecolor="black",
                        framealpha=1, handlelength=2.2, handletextpad=0.3, columnspacing=0.6,
                        borderpad=0.3, labelspacing=0.1)
        lg.get_frame().set_linewidth(0.6)
    if r == 12:
        hs = [Patch(facecolor=C_TOT, edgecolor="black", lw=0.5, label="Total"),
              Line2D([], [], color=C_LIS, lw=0.8, label="Li"),
              Line2D([], [], color=C_SNS, lw=0.8, label="Sn")]
        lg = axr.legend(handles=hs, loc="lower right", bbox_to_anchor=(1.06, -0.08),
                        fontsize=5, frameon=True, fancybox=False, edgecolor="black",
                        framealpha=1, handlelength=2.2, handletextpad=0.4,
                        borderpad=0.3, labelspacing=0.15)
        lg.get_frame().set_linewidth(0.6)
        lg.set_zorder(10)
    if r == 14:
        axl.set_xlabel(r"$E$ - $E_{Fermi}$ (eV)", fontsize=8, labelpad=1)
        axr.set_xlabel(r"Phonon $E$ (meV)", fontsize=8, labelpad=1)

fig.savefig("out.png", dpi=100)
